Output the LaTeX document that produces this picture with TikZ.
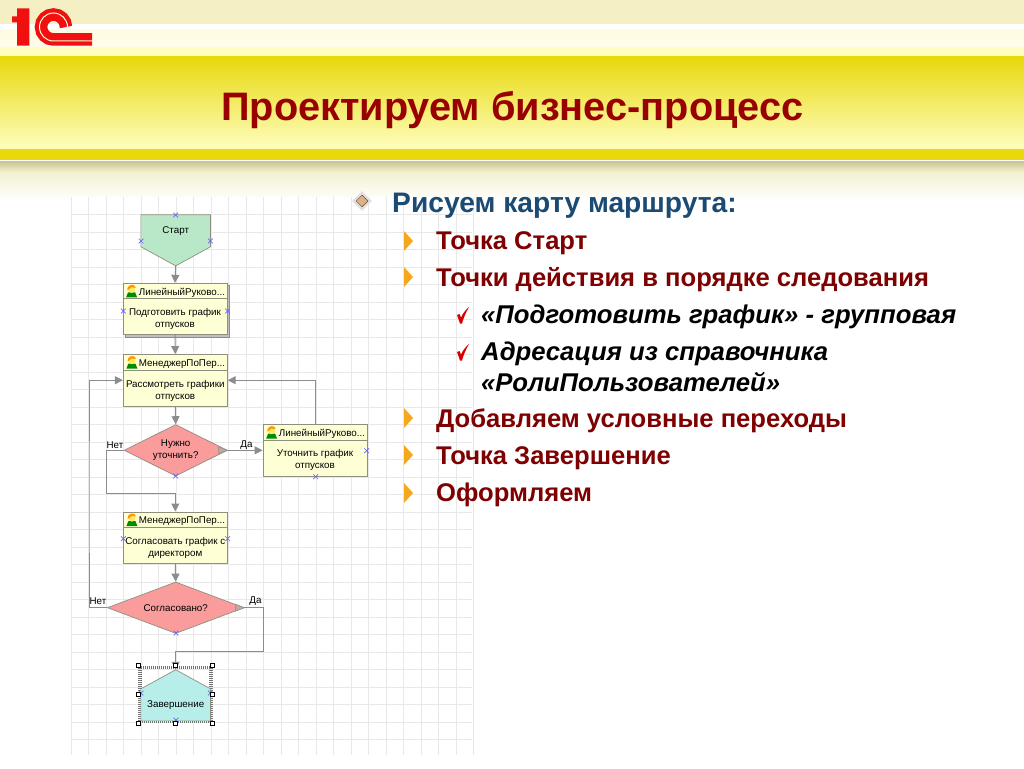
\documentclass[tikz,border=0pt]{standalone}
\usepackage{fontspec}
\setmainfont{Liberation Sans}
\usetikzlibrary{arrows.meta,shapes.geometric,shapes.misc,shadows}
\definecolor{titlered}{HTML}{990000}
\definecolor{itemred}{HTML}{7F0000}
\definecolor{headblue}{HTML}{1B4A72}
\definecolor{linegray}{HTML}{8C8C8C}
\definecolor{boxfill}{HTML}{FFFFD6}
\definecolor{boxline}{HTML}{8F8F80}
\definecolor{logored}{HTML}{F01010}
\definecolor{bandyellow}{HTML}{E8D80C}
\definecolor{bandpale}{HTML}{FFFEC0}
\definecolor{stripecream}{HTML}{F5F0C4}
\definecolor{stripelight}{HTML}{FFFBE2}
\definecolor{shadowtan}{HTML}{C8C490}
\definecolor{fadecream}{HTML}{F3F1D0}
\definecolor{startgreen}{HTML}{B8E8C8}
\definecolor{endcyan}{HTML}{B8EEEA}
\definecolor{askpink}{HTML}{FA9C9C}
\definecolor{bulletorange}{HTML}{F5A81C}
\tikzset{
  flow/.style={draw=linegray,line width=1pt,-{Triangle[length=8pt,width=8pt]}},
  bendline/.style={draw=linegray,line width=1pt},
  gridline/.style={draw=black!9,line width=0.6pt},
  small/.style={font=\fontsize{9.8}{12}\selectfont,inner sep=0pt,align=center},
  actbox/.style={draw=boxline,fill=boxfill,rectangle,line width=0.8pt,inner sep=0pt,minimum width=104pt,minimum height=51.5pt},
  shapebox/.style={rectangle,inner sep=0pt,minimum width=69.3pt,minimum height=50.7pt},
  askbox/.style={diamond,fill=askpink,draw=boxline,line width=0.7pt,inner sep=0pt,minimum height=51.5pt,align=center,font=\fontsize{9.8}{12}\selectfont},
  portmark/.style={cross out,draw=blue!60!white,line width=0.7pt,minimum size=4pt,inner sep=0pt},
  handlebox/.style={rectangle,draw=black,fill=white,line width=0.8pt,minimum size=4pt,inner sep=0pt},
  titletext/.style={anchor=base west,inner sep=0pt,text=titlered,font=\fontsize{39.7}{44}\bfseries\selectfont},
  headtext/.style={anchor=base west,inner sep=0pt,text=headblue,font=\fontsize{28.2}{32}\bfseries\selectfont},
  itemtext/.style={anchor=base west,inner sep=0pt,text=itemred,font=\fontsize{25.6}{30}\bfseries\selectfont},
  subtext/.style={anchor=base west,inner sep=0pt,text=black,font=\fontsize{25.7}{30}\bfseries\itshape\selectfont},
  person/.pic={
    \fill[green!55!black] (-5.5,6.5) -- (-3.5,1.5) -- (3.5,1.5) -- (5.5,6.5) -- cycle;
    \fill[orange!25!yellow!60!white] (0,-1.5) circle (3.6);
    \fill[orange!80!yellow] (-4.2,-0.5) .. controls (-5,-7) and (3.5,-8) .. (4.2,-3) -- (0,-3.5) -- cycle;
  }
}
\begin{document}
\begin{tikzpicture}[x=1pt,y=-1pt]
\useasboundingbox (0,0) rectangle (1024,768);
\fill[white] (0,0) rectangle (1024,768);

\fill[stripecream] (0,0) rectangle (1024,24);
\fill[top color=stripelight,bottom color=stripelight!70!white] (0,30) rectangle (1024,47);
\fill[bandpale] (0,47) rectangle (1024,57);
\fill[top color=bandyellow,bottom color=bandpale] (0,57) rectangle (1024,149);
\fill[bandyellow] (0,149) rectangle (1024,160);
\fill[top color=shadowtan,bottom color=fadecream] (0,161) rectangle (1024,172);
\fill[top color=fadecream,bottom color=white] (0,172) rectangle (1024,200);

\fill[white] (71,197) rectangle (472,755);
\foreach \k in {0,...,23} \path[draw,gridline] ({70.8+17.5*\k},197) -- ({70.8+17.5*\k},755);
\foreach \k in {0,...,30} \path[draw,gridline] (71,{214.3+17.5*\k}) -- (472,{214.3+17.5*\k});

\path[draw=logored,line width=12.5pt] (66,27) arc[start angle=0,end angle=-270,radius=12.5] -- (92,39.5);
\path[draw=yellow!15!white,line width=1pt] (67.5,27) arc[start angle=0,end angle=-270,radius=14] -- (92,41);
\fill[logored] (12,16.5) -- (17,16.5) -- (17,8.5) -- (29.3,8.5) -- (29.3,45.7) -- (17,45.7) -- (17,22.5) -- (12,22.5) -- cycle;

\node[titletext] (title) at (221,120) {Проектируем бизнес-процесс};
\node[headtext] (route) at (392,212) {Рисуем карту маршрута:};
\node[itemtext] (point) at (436,249) {Точка Старт};
\node[itemtext] (order) at (436,286) {Точки действия в порядке следования};
\node[subtext] (group) at (481,323) {«Подготовить график» - групповая};
\node[subtext] (address) at (481,360) {Адресация из справочника};
\node[subtext] (roles) at (481,391) {«РолиПользователей»};
\node[itemtext] (branch) at (436,427) {Добавляем условные переходы};
\node[itemtext] (stop) at (436,464) {Точка Завершение};
\node[itemtext] (style) at (436,501) {Оформляем};

\node[diamond,fill=black!12,inner sep=0pt,minimum size=20pt] (bulletback) at (362,201) {};
\node[diamond,fill=brown!60!white,draw=brown!60!black,line width=0.5pt,inner sep=0pt,minimum size=12pt] (bullet) at (362,201) {};
\foreach \y in {241,277,418,455,493} \fill[bulletorange] (404,\y-10) -- (413,\y) -- (404,\y+10) -- cycle;
\foreach \y in {307,344} \fill[red!85!black] (457,\y+8) -- (459.5,\y+7) -- (461,\y+10.5) .. controls (463,\y+6) and (466,\y+2.5) .. (469,\y) .. controls (466,\y+5) and (463.5,\y+11) .. (462,\y+16.5) -- (460,\y+16.5) -- cycle;

\node[shapebox] (start) at (175.7,240.3) {};
\path[fill=startgreen,draw=boxline,line width=0.7pt] (start.north west) -- (start.north east) -- ([yshift=-32pt]start.north east) -- (start.south) -- ([yshift=-32pt]start.north west) -- cycle;
\node[actbox,copy shadow={shadow xshift=2.5pt,shadow yshift=-2.5pt,draw=boxline,fill=black!25}] (draft) at (175,309) {};
\node[actbox] (review) at (175.3,380.2) {};
\node[actbox] (fix) at (315,450.3) {};
\node[actbox] (agree) at (175.3,537.7) {};
\node[askbox,minimum width=103.3pt,aspect=2] (ask) at (175.7,450.3) {Нужно\\уточнить?};
\node[askbox,minimum width=136.7pt,aspect=2.65] (agreed) at (175.7,607.7) {Согласовано?};
\node[rectangle,draw=black!55,line width=3.5pt,dash pattern=on 1pt off 1pt,minimum width=71pt,minimum height=54pt,inner sep=0pt] (frame) at (175.5,694.6) {};
\node[shapebox] (finish) at (175.7,695.3) {};
\path[fill=endcyan,draw=boxline,line width=0.7pt] (finish.south west) -- (finish.south east) -- ([yshift=32pt]finish.south east) -- (finish.north) -- ([yshift=32pt]finish.south west) -- cycle;

\node[small] (starttext) at (175.7,231) {Старт};
\node[small] (finishtext) at (175.7,705) {Завершение};
\node[small] (draftrole) at (182,293) {ЛинейныйРуково...};
\node[small] (draftjob) at (175,319) {Подготовить график\\отпусков};
\node[small] (reviewrole) at (182,364) {МенеджерПоПер...};
\node[small] (reviewjob) at (175.3,391) {Рассмотреть графики\\отпусков};
\node[small] (fixrole) at (322,433.5) {ЛинейныйРуково...};
\node[small] (fixjob) at (315,460) {Уточнить график\\отпусков};
\node[small] (agreerole) at (182,521.5) {МенеджерПоПер...};
\node[small] (agreejob) at (175.3,547.5) {Согласовать график с\\директором};

\foreach \n in {draft,review,fix,agree} {
  \path[draw=boxline,line width=0.8pt] ([yshift=-16pt]\n.north west) -- ([yshift=-16pt]\n.north east);
  \pic at ([xshift=9pt,yshift=-8pt]\n.north west) {person};
}

\coordinate (askturn) at (106,493.8);
\coordinate (backturn) at (89,500);
\coordinate (endturn) at (263.3,651.7);

\path[draw,flow] (start.south) -- (draft.north);
\path[draw,flow] (draft.south) -- (review.north);
\path[draw,flow] (review.south) -- (ask.north);
\path[draw,flow] (ask.east) -- (fix.west);
\path[draw,flow] (fix.north) |- (review.east);
\path[draw,bendline] (ask.west) -| (askturn);
\path[draw,flow] (askturn) -| (agree.north);
\path[draw,flow] (agree.south) -- (agreed.north);
\path[draw,flow] (agreed.west) -| (backturn) |- (review.west);
\path[draw,bendline] (agreed.east) -| (endturn);
\path[draw,flow] (endturn) -| (finish.north);

\node[small] (askno) at (115,445) {Нет};
\node[small] (askyes) at (246.5,445) {Да};
\node[small] (agreedno) at (98,601.5) {Нет};
\node[small] (agreedyes) at (255.5,601.5) {Да};

\foreach \t in {ask,agreed} {
  \path[fill=red!30!black!35,draw=boxline,line width=0.5pt] ([xshift=-9pt,yshift=3.5pt]\t.east) -- (\t.east) -- ([xshift=-9pt,yshift=-3.5pt]\t.east) -- cycle;
}

\foreach \p [count=\i] in {(175.7,215),(141,241),(210.3,241),(123.3,311),(227.6,311),(175.7,476),(366.7,450.7),(315.7,476.7),(123.3,538.7),(227.7,538.7),(176,633),(141,693),(210.3,693),(176,720)}
  \node[portmark] (port\i) at \p {};
\foreach \a [count=\i] in {north west,north,north east,west,east,south west,south,south east}
  \node[handlebox] (handle\i) at (frame.\a) {};
\end{tikzpicture}
\end{document}
